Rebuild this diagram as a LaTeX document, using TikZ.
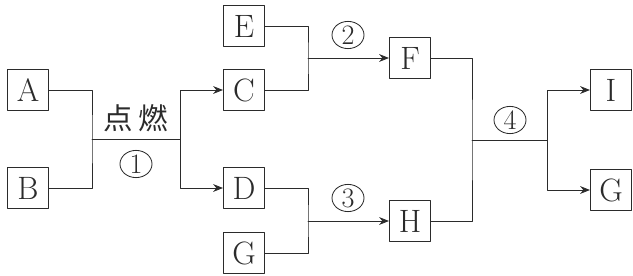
\documentclass[tikz,border=0pt]{standalone}
\usepackage{fontspec}
\newfontfamily\cjk{Noto Sans CJK SC}
\usepackage{tikz}
\usetikzlibrary{arrows.meta,shapes.geometric}
\definecolor{Ink}{HTML}{2B2B2B}

\begin{document}
\begin{tikzpicture}[x=0.025cm,y=-0.025cm,line cap=round,line join=round,
    color=Ink,line width=0.6pt,
    box/.style={rectangle,draw,line width=0.7pt,minimum size=1.025cm,inner sep=0pt,
      font=\fontsize{23}{26}\selectfont},
    num/.style={ellipse,draw,line width=0.6pt,minimum width=0.8cm,minimum height=0.68cm,
      inner sep=0pt,font=\fontsize{20}{22}\selectfont},
    arr/.style={-{Stealth[length=7pt,width=5.5pt]}}]
  \useasboundingbox (0,0) rectangle (633,276);
  % reactants and products
  \node[box] (A) at (28,90) {A};
  \node[box] (B) at (28,188) {B};
  \node[box] (E) at (244,26) {E};
  \node[box] (C) at (244,90) {C};
  \node[box] (D) at (244,188) {D};
  \node[box] (Gl) at (244,253) {G};
  \node[box] (F) at (410,58) {F};
  \node[box] (H) at (410,221) {H};
  \node[box] (I) at (611,90) {I};
  \node[box] (Gr) at (611,190) {G};
  % junctions
  \coordinate (j1) at (92,139);
  \coordinate (s1) at (180,139);
  \coordinate (j2) at (308,58);
  \coordinate (j3) at (308,221);
  \coordinate (j4) at (472,140);
  \coordinate (s4) at (547,140);
  % step 1
  \draw (A.east) -| (j1) |- (B.east);
  \draw (j1) -- (s1);
  \draw[arr] (s1) |- (C.west);
  \draw[arr] (s1) |- (D.west);
  \node[font=\cjk\fontsize{21}{24}\selectfont] (burn) at (136,118) {点\hspace{4pt}燃};
  \node[num] (n1) at (136,164) {1};
  % steps 2 and 3
  \draw (E.east) -| (j2) |- (C.east);
  \draw[arr] (j2) -- (F.west);
  \node[num] (n2) at (348,35) {2};
  \draw (D.east) -| (j3) |- (Gl.east);
  \draw[arr] (j3) -- (H.west);
  \node[num] (n3) at (348,198) {3};
  % step 4
  \draw (F.east) -| (j4) |- (H.east);
  \draw (j4) -- (s4);
  \draw[arr] (s4) |- (I.west);
  \draw[arr] (s4) |- (Gr.west);
  \node[num] (n4) at (510,120) {4};
\end{tikzpicture}
\end{document}
